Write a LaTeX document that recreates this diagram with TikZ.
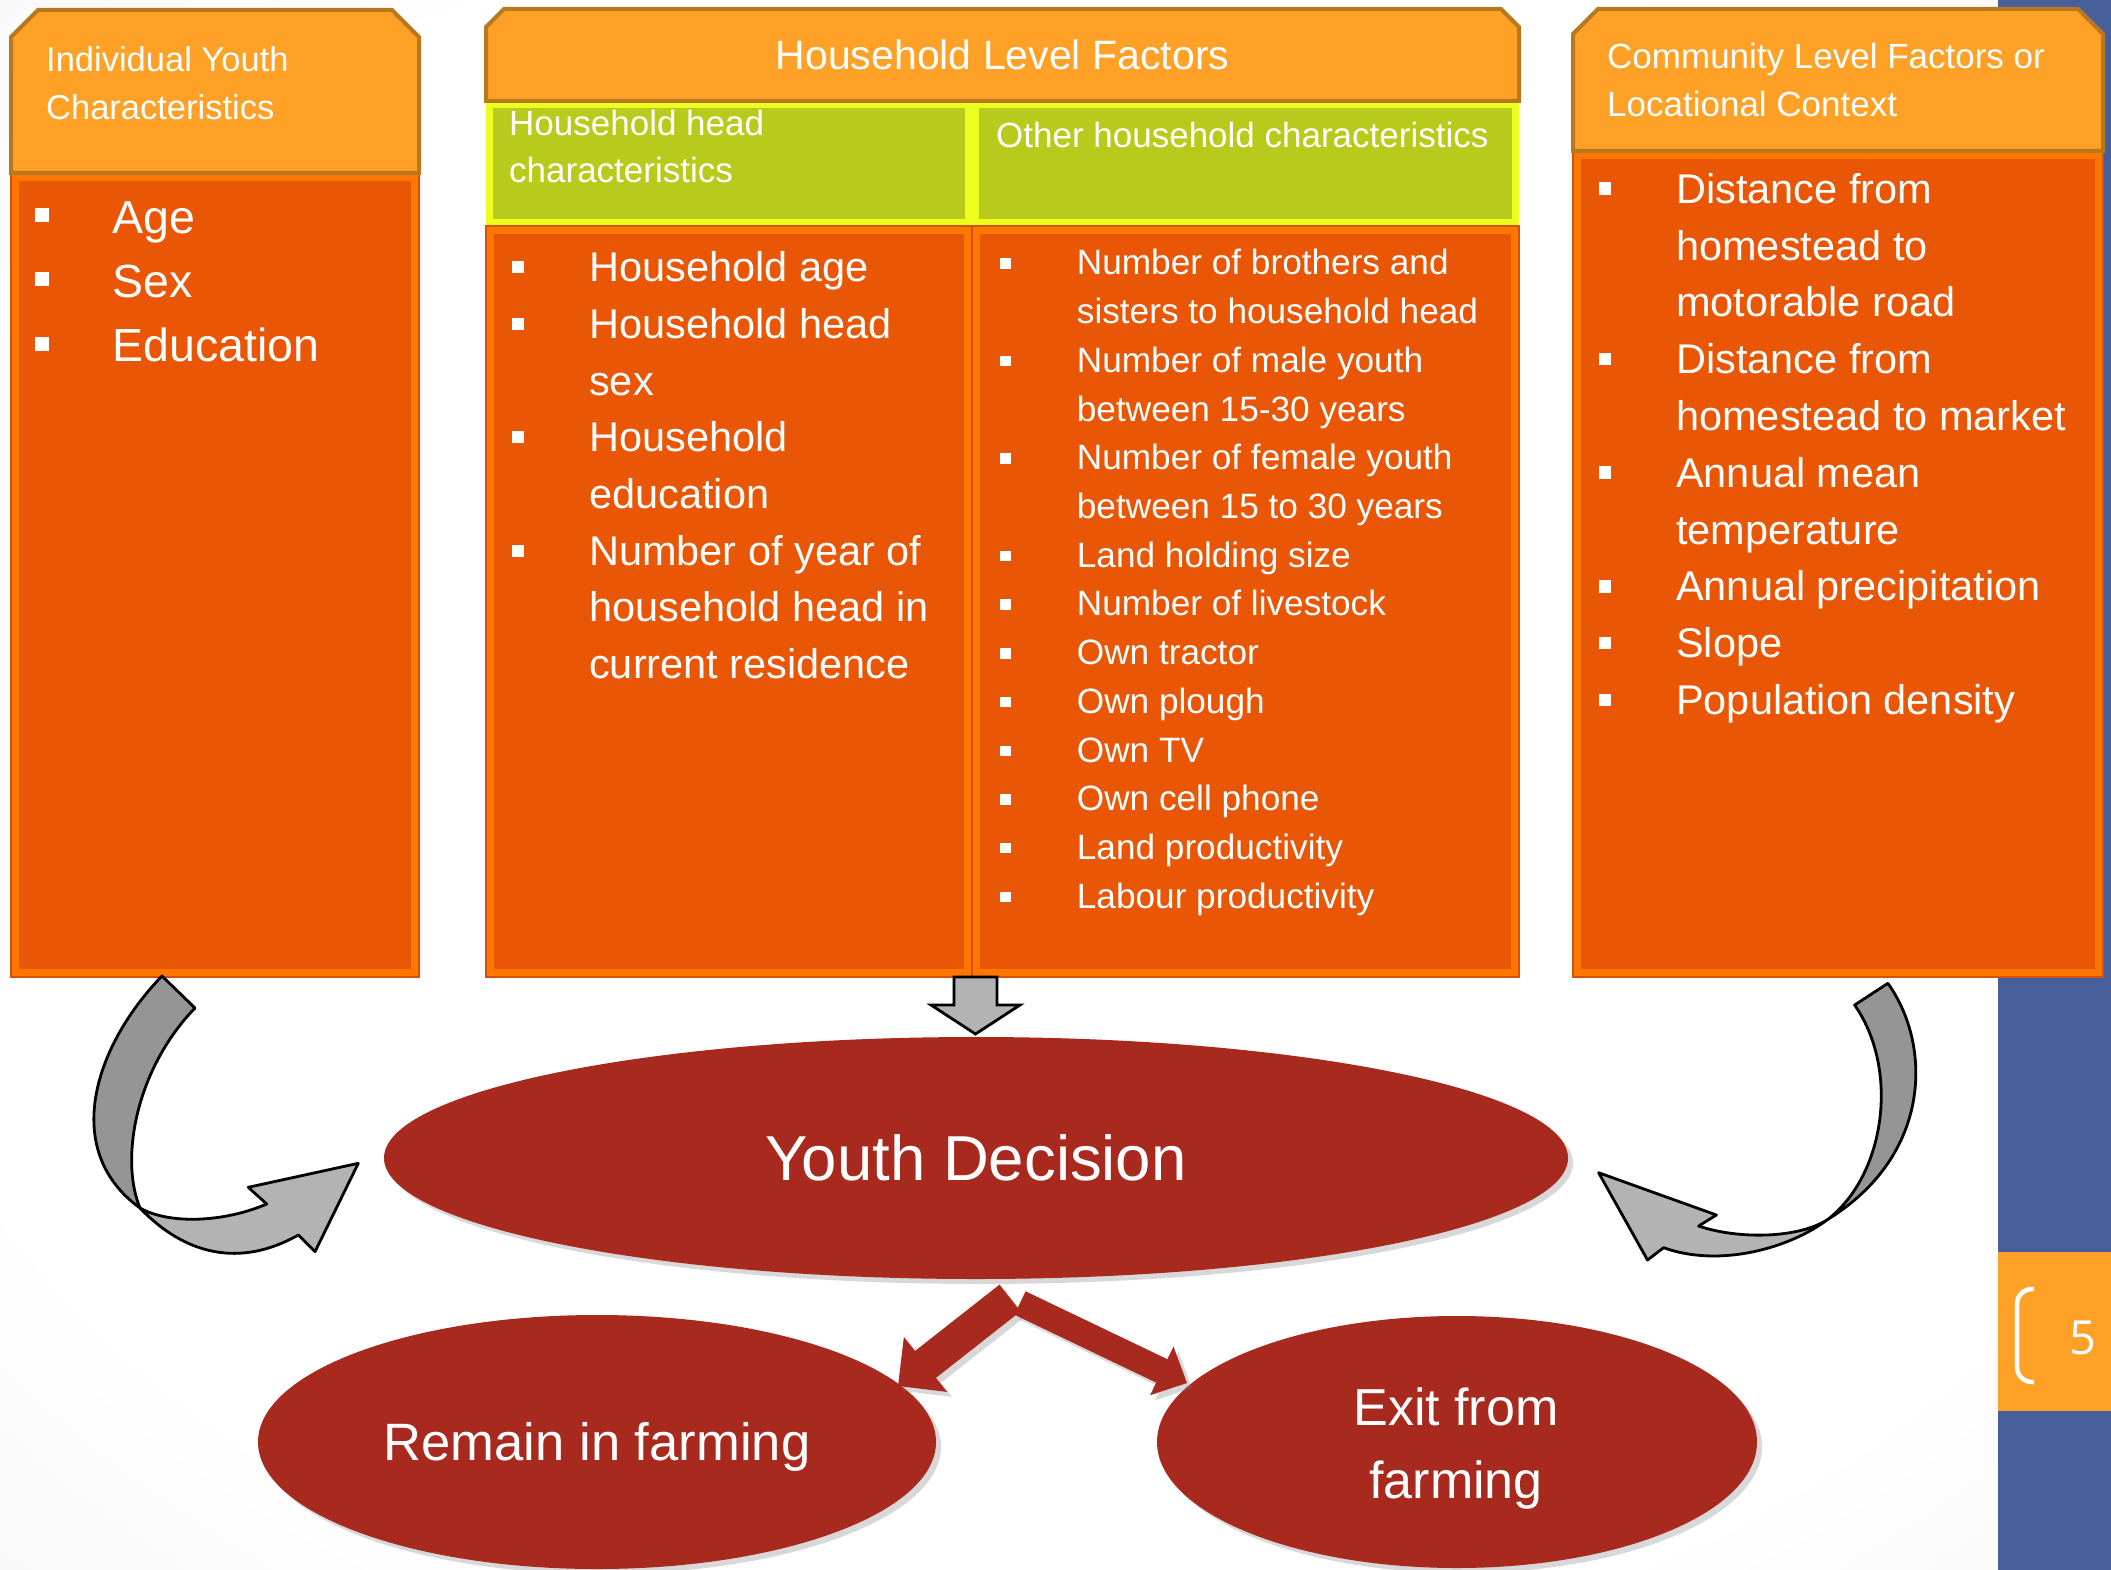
\documentclass[tikz,border=0pt]{standalone}
\usepackage{fontspec}
\setmainfont{Liberation Sans}
\newfontfamily\numfont{Open Sans}
\usetikzlibrary{shapes.geometric,shadows}
\definecolor{hdr}{RGB}{255,161,38}
\definecolor{hdrline}{RGB}{184,120,30}
\definecolor{bodyfill}{RGB}{232,86,6}
\definecolor{bodyband}{RGB}{255,118,0}
\definecolor{bodyline}{RGB}{214,80,10}
\definecolor{grn}{RGB}{184,203,28}
\definecolor{grnband}{RGB}{236,255,30}
\definecolor{dred}{RGB}{168,41,30}
\definecolor{lgray}{RGB}{179,179,179}
\definecolor{dgray}{RGB}{149,149,149}
\definecolor{slideblue}{RGB}{70,95,155}
\pgfdeclareradialshading{slidebg}{\pgfpoint{0bp}{0bp}}{color(0bp)=(white); color(28bp)=(white); color(50bp)=(black!7); color(72bp)=(black!13)}
\newcommand\bulsq[3]{\leavevmode\llap{\raisebox{#2}{\rule{#1}{#1}}\hspace{#3}}}
\newcommand\bA{\bulsq{14pt}{11pt}{63.7pt}}
\newcommand\bB{\bulsq{12pt}{8.4pt}{65pt}}
\newcommand\bC{\bulsq{10.5pt}{6pt}{66pt}}
\newcommand\bD{\bulsq{12.5pt}{8.3pt}{65pt}}
\newcommand\bodybox[4]{%
  \fill[bodyband] (#1,#2) rectangle (#3,#4);
  \fill[bodyfill] ({#1+8},{#2+8}) rectangle ({#3-8},{#4-8});
  \draw[bodyline, line width=1.5pt] (#1,#2) rectangle (#3,#4);}
\newcommand\greenbox[4]{%
  \fill[grnband] (#1,#2) rectangle (#3,#4);
  \fill[grn] ({#1+7},{#2+7}) rectangle ({#3-7},{#4-7});}
\tikzset{
  txt/.style={inner sep=0pt, text=white, anchor=base west},
  hdrshape/.style={fill=hdr, draw=hdrline, line width=4pt, line join=miter},
  redshape/.style={fill=dred, drop shadow={shadow xshift=5pt, shadow yshift=-5pt, opacity=0.3}},
  grayarrow/.style={draw=black, line width=2.8pt, line join=round},
}
\begin{document}
\begin{tikzpicture}[x=1pt,y=-1pt]
\useasboundingbox (0,0) rectangle (2111,1570);
% background
\shade[shading=slidebg] (0,0) rectangle (2111,1570);
\fill[slideblue] (1998,0) rectangle (2111,1570);
\fill[hdr] (1998,1252) rectangle (2111,1411);
\draw[white, line width=4.5pt, rounded corners=15pt] (2034,1289) -- (2017,1289) -- (2017,1382) -- (2034,1382);
\node[txt, anchor=base] (pg) at (2083,1354) {\numfont\fontsize{47}{50}\selectfont 5};

% left box
\bodybox{11}{173}{419}{977}
\draw[hdrshape] (11,37) -- (38,10) -- (392,10) -- (419,37) -- (419,173) -- (11,173) -- cycle;
% middle box
\greenbox{486}{101}{972}{226}
\greenbox{972}{101}{1519}{226}
\bodybox{486}{226}{972}{977}
\bodybox{972}{226}{1519}{977}
\draw[hdrshape] (486,27) -- (504,9) -- (1501,9) -- (1519,27) -- (1519,101) -- (486,101) -- cycle;
% right box
\bodybox{1573}{151}{2103}{977}
\draw[hdrshape] (1573,34) -- (1598,9) -- (2078,9) -- (2103,34) -- (2103,151) -- (1573,151) -- cycle;

% texts in boxes
\node[txt] (tIndiv) at (46,72) {\parbox[t]{360pt}{\fontsize{34.5}{48}\selectfont Individual Youth\\Characteristics}};
\node[txt] (lIndiv) at (112.7,233.3) {\parbox[t]{300pt}{\fontsize{46.5}{64.2}\selectfont
  \bA Age\\\bA Sex\\\bA Education}};
\node[txt, anchor=base] (tHouse) at (1002.5,70) {\fontsize{41}{48}\selectfont Household Level Factors};
\node[txt] (tHead) at (509,136) {\parbox[t]{440pt}{\fontsize{35}{47}\selectfont Household head\\characteristics}};
\node[txt] (tOther) at (996,148) {\fontsize{35}{47}\selectfont Other household characteristics};
\node[txt] (lHead) at (589,281.7) {\parbox[t]{380pt}{\fontsize{41.5}{56.7}\selectfont
  \bB Household age\\
  \bB Household head\\
  sex\\
  \bB Household\\
  education\\
  \bB Number of year of\\
  household head in\\
  current residence}};
\node[txt] (lOther) at (1076.7,275) {\parbox[t]{440pt}{\fontsize{35.2}{48.7}\selectfont
  \bC Number of brothers and\\
  sisters to household head\\
  \bC Number of male youth\\
  between 15-30 years\\
  \bC Number of female youth\\
  between 15 to 30 years\\
  \bC Land holding size\\
  \bC Number of livestock\\
  \bC Own tractor\\
  \bC Own plough\\
  \bC Own TV\\
  \bC Own cell phone\\
  \bC Land productivity\\
  \bC Labour productivity}};
\node[txt] (tComm) at (1607,68.5) {\parbox[t]{480pt}{\fontsize{35}{48.5}\selectfont Community Level Factors or\\Locational Context}};
\node[txt] (lComm) at (1676,203.3) {\parbox[t]{420pt}{\fontsize{41.5}{56.8}\selectfont
  \bD Distance from\\
  homestead to\\
  motorable road\\
  \bD Distance from\\
  homestead to market\\
  \bD Annual mean\\
  temperature\\
  \bD Annual precipitation\\
  \bD Slope\\
  \bD Population density}};

% ellipses
\node[ellipse, redshape, minimum width=1184pt, minimum height=242pt, inner sep=0pt] (yd) at (976,1158) {};
\node[ellipse, redshape, minimum width=678pt, minimum height=254pt, inner sep=0pt] (rem) at (597,1442) {};
\node[ellipse, redshape, minimum width=600pt, minimum height=252pt, inner sep=0pt] (ex) at (1457,1442) {};
\node[txt, anchor=base] (tYD) at (976,1180) {\fontsize{63.5}{70}\selectfont Youth Decision};
\node[txt, anchor=base] (tRem) at (597,1460) {\fontsize{52.6}{60}\selectfont Remain in farming};
\node[txt, anchor=base] (tEx) at (1456,1425) {\parbox[t]{400pt}{\centering\fontsize{52}{73}\selectfont Exit from\\farming}};

% down block arrow (household box -> Youth Decision)
\draw[grayarrow, fill=lgray, line join=miter] (954,977) -- (997,977) -- (997,1005) -- (1020,1005) -- (975.5,1034) -- (931,1005) -- (954,1005) -- cycle;

% red split arrows
\fill[redshape] (1020.5,1311.4) -- (999.5,1284.6) -- (915,1351) -- (903.9,1336.9) -- (898,1386) -- (947.1,1391.9) -- (936,1377.8) -- cycle;
\fill[redshape] (1025.6,1291.3) -- (1014.4,1314.7) -- (1156.2,1382.6) -- (1150.1,1395.2) -- (1187,1383) -- (1173.5,1346.6) -- (1167.4,1359.2) -- cycle;

% left curved arrow
\filldraw[grayarrow, fill=dgray] (162,976) .. controls (95,1045) and (60,1150) .. (140,1208) .. controls (120,1160) and (135,1070) .. (195,1008) -- cycle;
\filldraw[grayarrow, fill=lgray] (140,1208) .. controls (170,1225) and (225,1222) .. (266.7,1204) -- (248.3,1187.3) -- (358.3,1163.3) -- (315,1251.7) -- (298.3,1235) .. controls (240,1268) and (185,1255) .. (140,1208) -- cycle;

% right curved arrow
\filldraw[grayarrow, fill=dgray] (1887.9,983.3) .. controls (1932,1045) and (1932,1155) .. (1827.9,1219.3) .. controls (1885,1175) and (1900,1070) .. (1854.6,1005) -- cycle;
\filldraw[grayarrow, fill=lgray] (1827.9,1219.3) .. controls (1790,1248) and (1720,1268) .. (1663.6,1247.7) -- (1647.5,1260) -- (1598.6,1172.7) -- (1716.4,1215) -- (1698.6,1226) .. controls (1740,1240) and (1800,1238) .. (1827.9,1219.3) -- cycle;
\end{tikzpicture}
\end{document}
